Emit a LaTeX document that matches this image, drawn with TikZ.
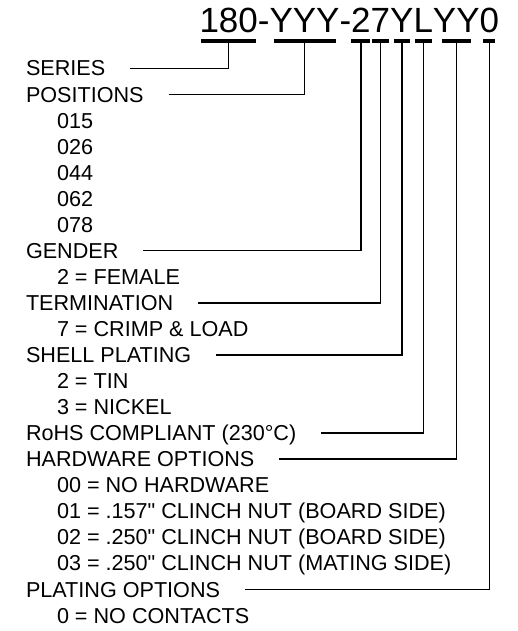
\documentclass[tikz,border=0pt]{standalone}
\usepackage{fontspec}
\setmainfont{Liberation Sans}[Ligatures=TeXOff]
\begin{document}
\begin{tikzpicture}[x=1pt,y=-1pt,
  lbl/.style={anchor=base west,inner sep=0pt,outer sep=0pt,font=\fontsize{21.6}{25}\selectfont},
  ttl/.style={anchor=base west,inner sep=0pt,outer sep=0pt,font=\fontsize{35}{40}\selectfont},
  lead/.style={line width=1.4pt},
  uline/.style={line width=3.4pt}]
\useasboundingbox (0,0) rectangle (518,631);
% title
\node[ttl] (t1) at (199.5,33) {180};
\node[ttl] (h1) at (t1.base east) {-};
\node[ttl] (t2) at (h1.base east) {YYY};
\node[ttl] (h2) at (t2.base east) {-};
\node[ttl] (t3) at (h2.base east) {2};
\node[ttl] (t4) at (t3.base east) {7};
\node[ttl] (t5) at (t4.base east) {Y};
\node[ttl] (t6) at (t5.base east) {L};
\node[ttl] (t7) at (t6.base east) {YY};
\node[ttl] (t8) at (t7.base east) {0};
\foreach \n/\w in {t1/27.5,t2/31,t3/9.5,t4/8.5,t5/8,t6/8.5,t7/14.5,t8/6}{
  \coordinate (c\n) at ([yshift=-8pt]\n.base);
  \draw[uline] ([xshift=-\w pt]c\n) -- ([xshift=\w pt]c\n);
}
% labels
\node[lbl] (series) at (26,76) {SERIES};
\node[lbl] (pos) at (26,102.05) {POSITIONS};
\node[lbl] (p1) at (57,128.1) {015};
\node[lbl] (p2) at (57,154.15) {026};
\node[lbl] (p3) at (57,180.2) {044};
\node[lbl] (p4) at (57,206.25) {062};
\node[lbl] (p5) at (57,232.3) {078};
\node[lbl] (gender) at (26,258.35) {GENDER};
\node[lbl] (g1) at (57,284.4) {2 = FEMALE};
\node[lbl] (term) at (26,310.45) {TERMINATION};
\node[lbl] (te1) at (57,336.5) {7 = CRIMP \& LOAD};
\node[lbl] (shell) at (26,362.55) {SHELL PLATING};
\node[lbl] (s1) at (57,388.6) {2 = TIN};
\node[lbl] (s2) at (57,414.65) {3 = NICKEL};
\node[lbl] (rohs) at (26,440.7) {RoHS COMPLIANT (230°C)};
\node[lbl] (hw) at (26,466.75) {HARDWARE OPTIONS};
\node[lbl] (hw0) at (57,492.8) {00 = NO HARDWARE};
\node[lbl] (hw1) at (57,518.85) {01 = .157" CLINCH NUT (BOARD SIDE)};
\node[lbl] (hw2) at (57,544.9) {02 = .250" CLINCH NUT (BOARD SIDE)};
\node[lbl] (hw3) at (57,570.95) {03 = .250" CLINCH NUT (MATING SIDE)};
\node[lbl] (plat) at (26,597) {PLATING OPTIONS};
\node[lbl] (pl0) at (57,623.05) {0 = NO CONTACTS};
% leaders
\foreach \a/\b in {series/t1,pos/t2,gender/t3,term/t4,shell/t5,rohs/t6,hw/t7,plat/t8}{
  \draw[lead] ([xshift=25pt,yshift=7.65pt]\a.base east) -| (c\b);
}
\end{tikzpicture}
\end{document}
